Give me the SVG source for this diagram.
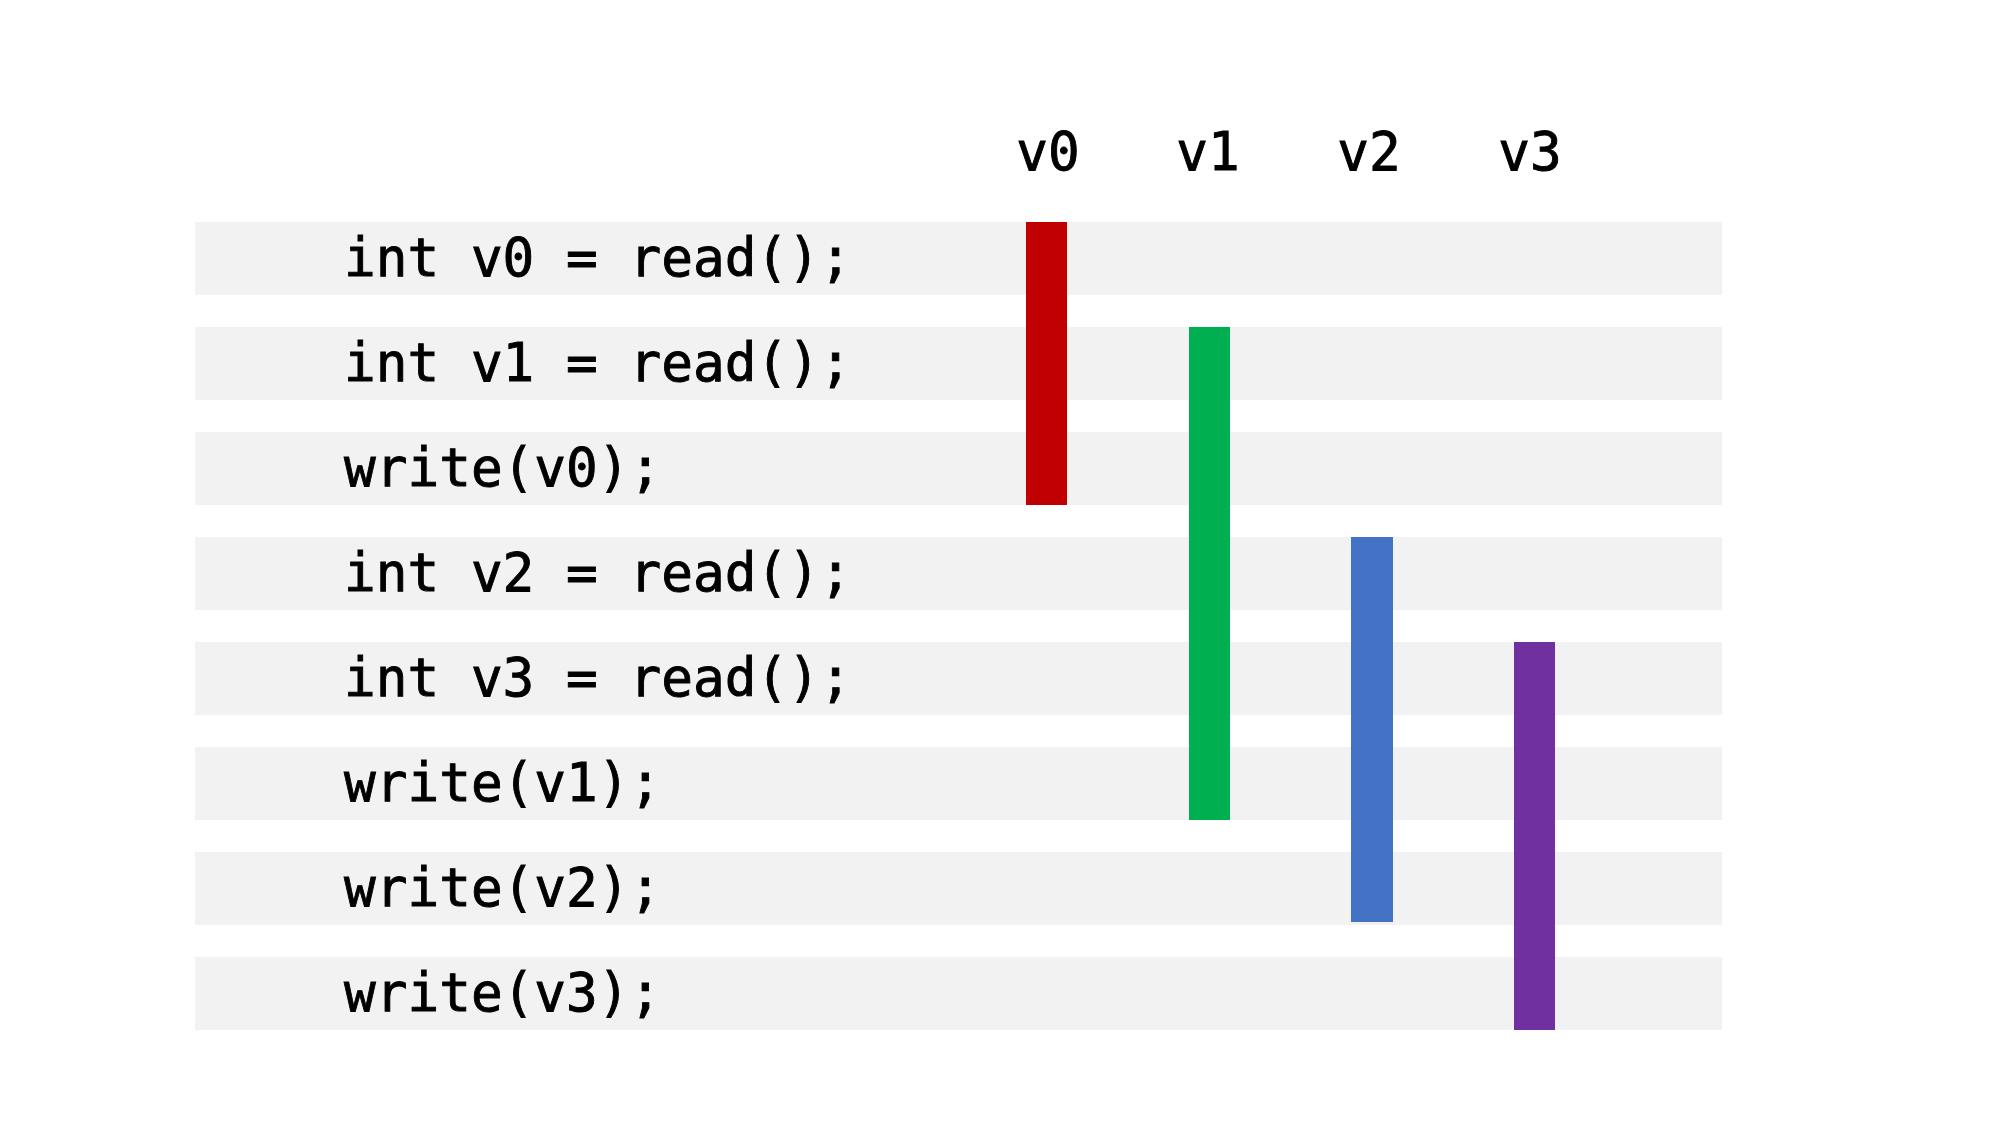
<svg xmlns="http://www.w3.org/2000/svg" width="2000" height="1125" viewBox="0 0 2000 1125">
<style>
.row{fill:#F2F2F2}
.code{font-family:"DejaVu Sans Mono","Liberation Mono",monospace;font-size:52.7px;fill:#000;stroke:#000;stroke-width:0.9px}
.hdr{font-family:"DejaVu Sans Mono","Liberation Mono",monospace;font-size:52.7px;fill:#000;stroke:#000;stroke-width:0.9px;text-anchor:middle}
</style>
<rect width="2000" height="1125" fill="#fff"/>
<g id="rows">
<g id="row1"><rect class="row" x="195" y="222" width="1527" height="73"/><text class="code" x="344" y="276">int v0 = read();</text></g>
<g id="row2"><rect class="row" x="195" y="327" width="1527" height="73"/><text class="code" x="344" y="381">int v1 = read();</text></g>
<g id="row3"><rect class="row" x="195" y="432" width="1527" height="73"/><text class="code" x="344" y="486">write(v0);</text></g>
<g id="row4"><rect class="row" x="195" y="537" width="1527" height="73"/><text class="code" x="344" y="591">int v2 = read();</text></g>
<g id="row5"><rect class="row" x="195" y="642" width="1527" height="73"/><text class="code" x="344" y="696">int v3 = read();</text></g>
<g id="row6"><rect class="row" x="195" y="747" width="1527" height="73"/><text class="code" x="344" y="801">write(v1);</text></g>
<g id="row7"><rect class="row" x="195" y="852" width="1527" height="73"/><text class="code" x="344" y="906">write(v2);</text></g>
<g id="row8"><rect class="row" x="195" y="957" width="1527" height="73"/><text class="code" x="344" y="1011">write(v3);</text></g>
</g>
<g id="headers">
<text class="hdr" x="1048" y="170">v0</text>
<text class="hdr" x="1208" y="170">v1</text>
<text class="hdr" x="1369" y="170">v2</text>
<text class="hdr" x="1530" y="170">v3</text>
</g>
<g id="lifetimes">
<rect id="life-v0" x="1026" y="222" width="41" height="283" fill="#C00000"/>
<rect id="life-v1" x="1189" y="327" width="41" height="493" fill="#00B050"/>
<rect id="life-v2" x="1351" y="537" width="42" height="385" fill="#4472C4"/>
<rect id="life-v3" x="1514" y="642" width="41" height="388" fill="#7030A0"/>
</g>
</svg>
